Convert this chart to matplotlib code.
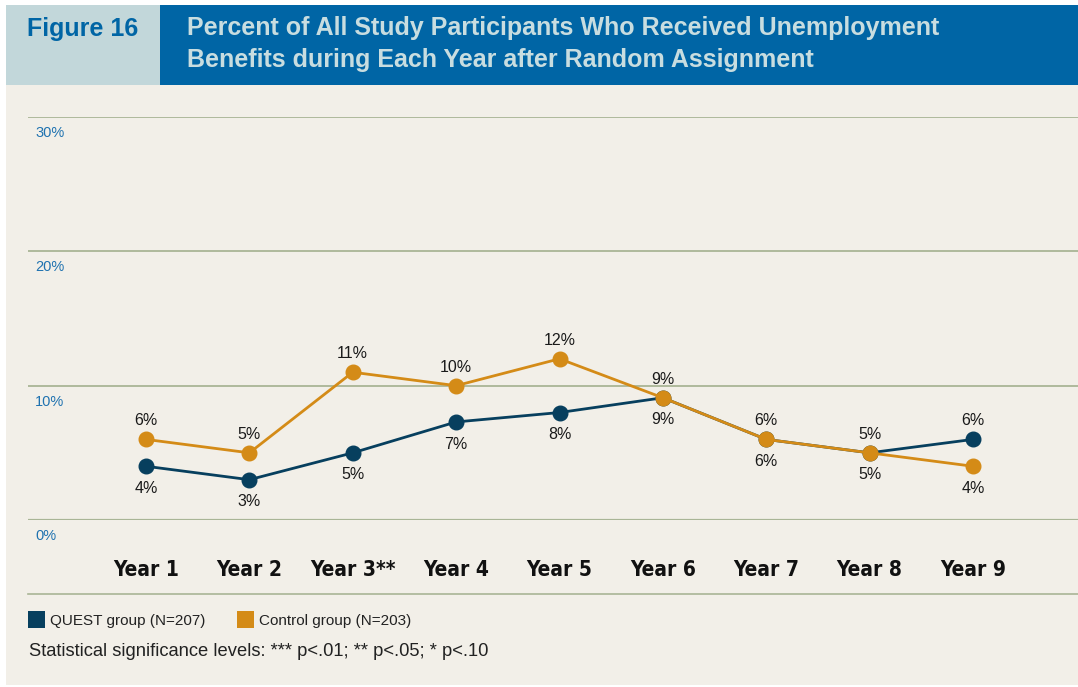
import matplotlib
matplotlib.use("Agg")
import matplotlib.pyplot as plt
from matplotlib.patches import Rectangle

# ---- data ----
years = ["Year 1", "Year 2", "Year 3**", "Year 4", "Year 5", "Year 6", "Year 7", "Year 8", "Year 9"]
quest = [4.0, 3.0, 5.0, 7.3, 8.0, 9.1, 6.0, 5.0, 6.0]
control = [6.0, 5.0, 11.0, 10.0, 12.0, 9.1, 6.0, 5.0, 4.0]
quest_labels = ["4%", "3%", "5%", "7%", "8%", "9%", "6%", "5%", "6%"]
control_labels = ["6%", "5%", "11%", "10%", "12%", "9%", "6%", "5%", "4%"]
yticks = [0, 10, 20, 30]
ytick_labels = ["0%", "10%", "20%", "30%"]
series_names = ["QUEST group (N=207)", "Control group (N=203)"]
title = "Percent of All Study Participants Who Received Unemployment\nBenefits during Each Year after Random Assignment"
fig_label = "Figure 16"
note = "Statistical significance levels: *** p<.01; ** p<.05; * p<.10"

NAVY = "#073f5e"
ORANGE = "#d48b17"
BEIGE = "#f2efe8"
GRID = "#a9b596"
BLUE = "#0065a5"
LIGHTBLUE = "#c2d7da"
TICKBLUE = "#1f72b0"

sans = "Liberation Sans"

W, H = 1078, 687
fig = plt.figure(figsize=(W / 100, H / 100), dpi=100)
fig.patch.set_facecolor("white")

def px(x, y, w, h):
    return (x / W, 1 - (y + h) / H, w / W, h / H)

# background panels
for (x0, y0, w0, h0, c) in [(6, 85, W - 6, 600, BEIGE), (6, 5, 154, 80, LIGHTBLUE), (160, 5, W - 160, 80, BLUE)]:
    fig.patches.append(Rectangle((x0 / W, 1 - (y0 + h0) / H), w0 / W, h0 / H,
                                 transform=fig.transFigure, facecolor=c, edgecolor="none", zorder=-5))

fig.text(27 / W, 1 - 29 / H, fig_label, fontsize=18, fontweight="bold", color=BLUE,
         family=sans, va="center", ha="left")
fig.text(187 / W, 1 - 44 / H, title, fontsize=18, fontweight="bold", color="#c8dde0",
         family=sans, va="center", ha="left", linespacing=1.38)

# main axes: y 0 at 520px, 30 at 117px; x from 28 to 1078
ax = fig.add_axes(px(28, 117, W - 28, 520 - 117))
ax.set_zorder(2)
ax.set_facecolor("none")
ax.set_ylim(0, 30)
scale = (973 - 146) / 8
ax.set_xlim(-(146 - 28) / scale, 8 + (W - 973) / scale)
for s in ax.spines.values():
    s.set_visible(False)
ax.set_yticks([])

for v, lab in zip(yticks, ytick_labels):
    ax.axhline(v, color=GRID, lw=2.3 if v == 0 else 1.3, zorder=1)
    ax.annotate(lab, xy=(0.007, v), xycoords=("axes fraction", "data"),
                xytext=(0, -6.5), textcoords="offset points", va="top", ha="left",
                fontsize=10.5, color=TICKBLUE, family=sans)

xs = list(range(len(years)))
ax.set_xticks(xs)
ax.set_xticklabels(years, fontsize=15, fontweight="bold", family="DejaVu Sans",
                   fontstretch="condensed", color="#111111")
ax.tick_params(axis="x", length=0, pad=29)

ax.plot(xs, quest, color=NAVY, lw=2.0, marker="o", ms=10.5, zorder=3, clip_on=False)
ax.plot(xs, control, color=ORANGE, lw=2.0, marker="o", ms=10.5, zorder=4, clip_on=False)

for i in xs:
    q_up = quest[i] > control[i]
    ax.annotate(quest_labels[i], xy=(i, quest[i]), xytext=(0, 8 if q_up else -10.5),
                textcoords="offset points", ha="center", va="bottom" if q_up else "top",
                fontsize=11.5, family=sans, color="#1a1a1a")
    ax.annotate(control_labels[i], xy=(i, control[i]), xytext=(0, -10.5 if q_up else 8),
                textcoords="offset points", ha="center", va="top" if q_up else "bottom",
                fontsize=11.5, family=sans, color="#1a1a1a")

# separator line
fig.add_artist(plt.Line2D([28 / W, 1], [1 - 594 / H, 1 - 594 / H], transform=fig.transFigure,
                          color=GRID, lw=1.2))

# legend
for (x0, name, col) in [(28, series_names[0], NAVY), (237, series_names[1], ORANGE)]:
    fig.patches.append(Rectangle((x0 / W, 1 - 628 / H), 17 / W, 17 / H, transform=fig.transFigure,
                                 facecolor=col, edgecolor="none"))
    fig.text((x0 + 22) / W, 1 - 621 / H, name, fontsize=11, family=sans, va="center",
             ha="left", color="#222222")
fig.text(29 / W, 1 - 651 / H, note, fontsize=13.2, family=sans, va="center", ha="left",
         color="#222222")

fig.savefig("out.png", dpi=100, facecolor="white")
